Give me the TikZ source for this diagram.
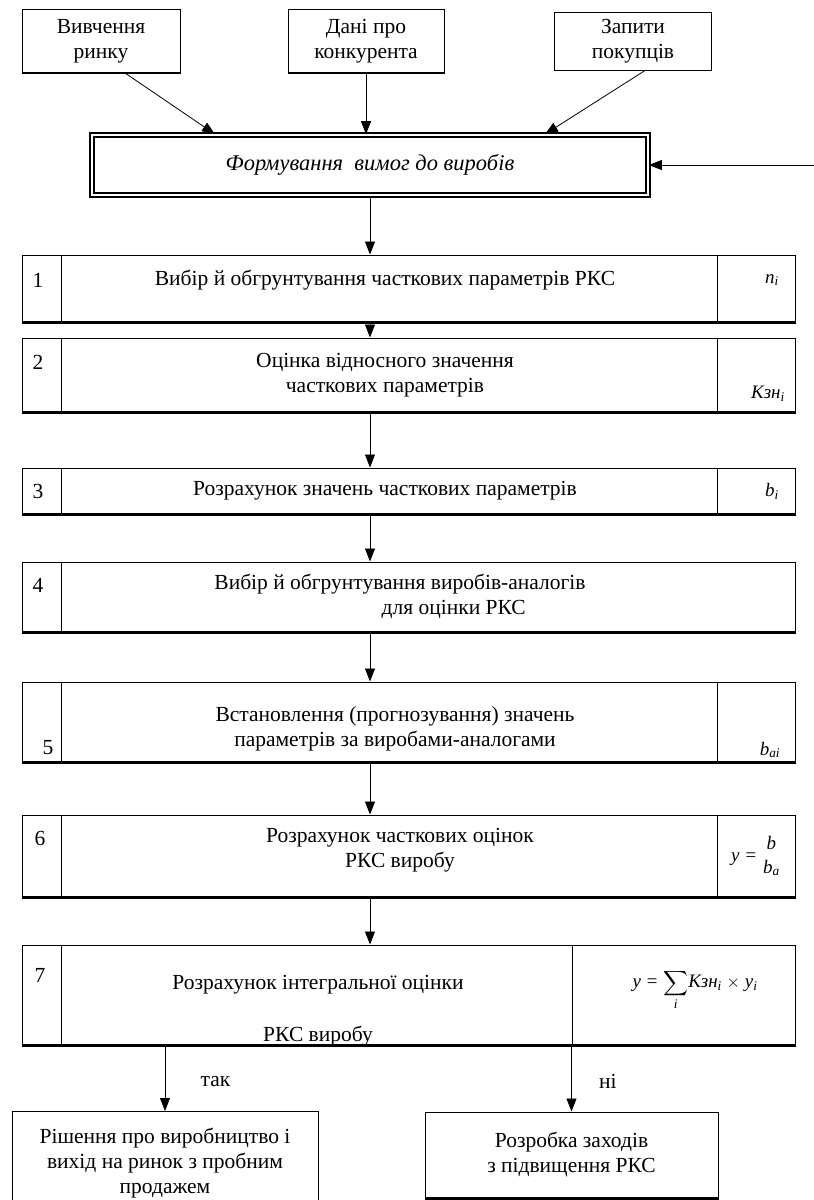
\documentclass[tikz,border=0pt]{standalone}
\usepackage{amsmath}
\usepackage{fontspec}
\setmainfont{Liberation Serif}
\usetikzlibrary{arrows.meta}
\begin{document}
\begin{tikzpicture}[x=1pt,y=-1pt,
    box/.style={draw,line width=1pt,align=center,inner sep=0pt},
    row/.style={draw,line width=1pt,minimum width=773pt,inner sep=0pt},
    arr/.style={-{Triangle[length=13pt,width=10pt]},line width=0.8pt},
    lab/.style={font=\fontsize{19}{22}\selectfont\itshape},
    every node/.append style={font=\fontsize{21.5}{25}\selectfont}]
    \useasboundingbox (0,0) rectangle (814,1200);
    \node[box,minimum width=158pt,minimum height=63pt] (a) at (101,41) {Вивчення\\ринку};
    \node[box,minimum width=156pt,minimum height=63pt] (b) at (366,41) {Дані про\\конкурента};
    \node[box,minimum width=157pt,minimum height=58pt] (c) at (633,41) {Запити\\покупців};
    \node[box,line width=1.6pt,double,double distance=2.5pt,minimum width=556pt,minimum height=60pt,
        font=\fontsize{22.5}{25}\selectfont\itshape] (f) at (370,165) {Формування\ \ вимог до виробів};
    \coordinate (in) at (814,165);
    \draw[arr] ([xshift=24pt]a.south) -- ([xshift=-155pt]f.north);
    \draw[arr] (b.south) -- (b.south |- f.north);
    \draw[arr] ([xshift=12pt]c.south) -- ([xshift=175pt]f.north);
    \draw[arr] (in) -- (f.east);

    \node[row,minimum height=67pt] (r1) at (408.5,288.5) {};
    \node[row,minimum height=74pt] (r2) at (408.5,375) {};
    \node[row,minimum height=46pt] (r3) at (408.5,491) {};
    \node[row,minimum height=70pt] (r4) at (408.5,597) {};
    \node[row,minimum height=80pt] (r5) at (408.5,722) {};
    \node[row,minimum height=82pt] (r6) at (408.5,856) {};
    \node[row,minimum height=100pt] (r7) at (408.5,995) {};
    \foreach \r in {r1,r2,r3,r4,r5,r6,r7}
        \draw[line width=1pt] ([xshift=40pt]\r.north west) -- ([xshift=40pt]\r.south west);
    \foreach \r in {r1,r2,r3,r5,r6}
        \draw[line width=1pt] ([xshift=-78pt]\r.north east) -- ([xshift=-78pt]\r.south east);
    \draw[line width=1pt] ([xshift=-223pt]r7.north east) -- ([xshift=-223pt]r7.south east);
    \foreach \r in {a,b,r1,r2,r3,r4,r5,r6,r7}
        \draw[line width=2.2pt] (\r.south west) -- (\r.south east);

    \node (n1) at (38,280) {1};
    \node (t1) at (385,280) {Вибір й обгрунтування часткових параметрів РКС};
    \node[lab] (v1) at (772,280) {n\textsubscript{i}};
    \node (n2) at (38,362) {2};
    \node[align=center] (t2) at (385,375) {Оцінка відносного значення\\часткових параметрів};
    \node[lab] (v2) at (768,394) {Кзн\textsubscript{i}};
    \node (n3) at (38,491) {3};
    \node (t3) at (385,491) {Розрахунок значень часткових параметрів};
    \node[lab] (v3) at (772,491) {b\textsubscript{i}};
    \node (n4) at (38,585) {4};
    \node[align=center] (t4) at (400,596) {Вибір й обгрунтування виробів-аналогів\\\hspace*{5em}для оцінки РКС};
    \node (n5) at (48,748) {5};
    \node[align=center] (t5) at (395,729) {Встановлення (прогнозування) значень\\параметрів за виробами-аналогами};
    \node[lab] (v5) at (770,750) {b\textsubscript{ai}};
    \node (n6) at (40,838) {6};
    \node[align=center] (t6) at (400,850) {Розрахунок часткових оцінок\\РКС виробу};
    \node[lab] (v6) at (756,856) {y = $\genfrac{}{}{0pt}{0}{\textit{b}}{\textit{b}_{\textit{a}}}$};
    \node (n7) at (40,975) {7};
    \node (t7a) at (318,985) {Розрахунок інтегральної оцінки};
    \node (t7b) at (318,1036) {РКС виробу};
    \node[lab] (v7) at (695,990) {y = $\displaystyle\sum_{\textit{i}}$Кзн\textsubscript{i} $\times$ y\textsubscript{i}};

    \node[box,minimum width=306pt,minimum height=103pt] (bl) at (165,1163) {Рішення про виробництво і\\вихід на ринок з пробним\\продажем};
    \node[box,minimum width=293pt,minimum height=86pt] (br) at (571.5,1155) {Розробка заходів\\з підвищення РКС};
    \foreach \r in {bl,br}
        \draw[line width=2.2pt] (\r.south west) -- (\r.south east);

    \draw[arr] (f.south |- f.south) -- (f.south |- r1.north);
    \draw[arr] (f.south |- r1.south) -- (f.south |- r2.north);
    \draw[arr] (f.south |- r2.south) -- (f.south |- r3.north);
    \draw[arr] (f.south |- r3.south) -- (f.south |- r4.north);
    \draw[arr] (f.south |- r4.south) -- (f.south |- r5.north);
    \draw[arr] (f.south |- r5.south) -- (f.south |- r6.north);
    \draw[arr] (f.south |- r6.south) -- (f.south |- r7.north);
    \draw[arr] (bl.north |- r7.south) -- node[pos=0.55,right=32pt] {так} (bl.north);
    \draw[arr] (br.north |- r7.south) -- node[pos=0.55,right=24pt] {ні} (br.north);
\end{tikzpicture}
\end{document}
